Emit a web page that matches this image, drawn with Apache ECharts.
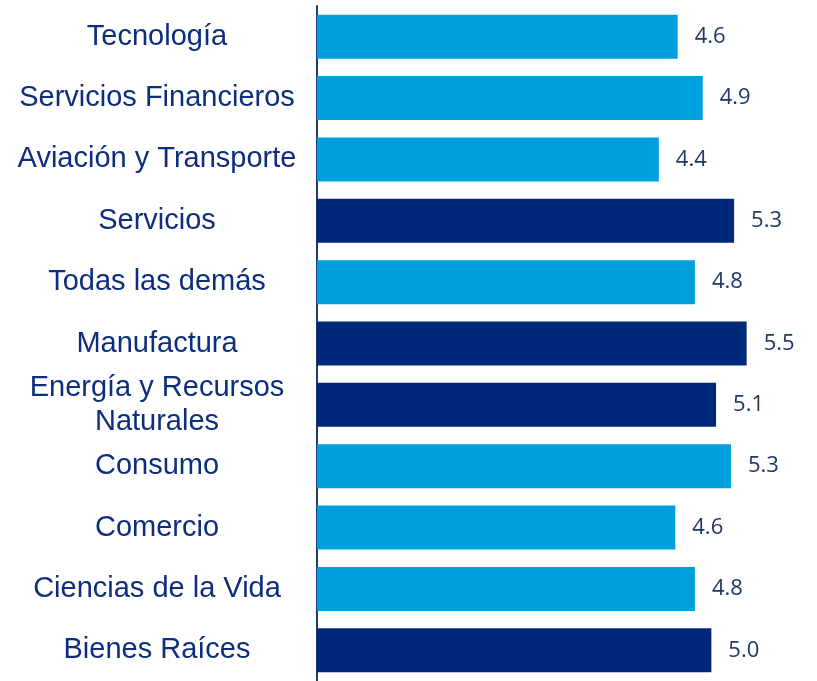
<!DOCTYPE html>
<html>
<head>
<meta charset="utf-8">
<script src="https://cdn.jsdelivr.net/npm/echarts@6/dist/echarts.min.js"></script>
<style>
html,body{margin:0;padding:0;background:#fff;}
#chart{width:817px;height:681px;}
</style>
</head>
<body>
<div id="chart"></div>
<script>
const categories = [
  "Tecnología",
  "Servicios Financieros",
  "Aviación y Transporte",
  "Servicios",
  "Todas las demás",
  "Manufactura",
  "Energía y Recursos\nNaturales",
  "Consumo",
  "Comercio",
  "Ciencias de la Vida",
  "Bienes Raíces"
];
const values = [4.60, 4.92, 4.36, 5.32, 4.82, 5.48, 5.09, 5.28, 4.57, 4.82, 5.03];
const highlighted = ["Servicios", "Manufactura", "Energía y Recursos\nNaturales", "Bienes Raíces"];

const LIGHT = "#00A0DF";
const DARK = "#002878";

const chart = echarts.init(document.getElementById("chart"), null, {renderer: "canvas"});
chart.setOption({
  animation: false,
  backgroundColor: "#ffffff",
  grid: {left: 317, top: 6, height: 678.7, width: 470.4, containLabel: false},
  xAxis: {
    type: "value", min: 0, max: 6,
    show: false
  },
  yAxis: {
    type: "category",
    data: categories,
    inverse: true,
    axisLine: {show: true, lineStyle: {color: "#1F3A7A", width: 2}},
    axisTick: {show: false},
    splitLine: {show: false},
    axisLabel: {
      align: "center",
      margin: 160,
      fontFamily: "Liberation Sans, Arial, sans-serif",
      fontSize: 29,
      lineHeight: 34,
      padding: [6, 0, 0, 0],
      color: "#0D2D7D"
    }
  },
  series: [{
    type: "bar",
    barWidth: 44,
    data: values.map((v, i) => ({
      value: v,
      itemStyle: {color: highlighted.includes(categories[i]) ? DARK : LIGHT}
    })),
    label: {
      show: true,
      position: "right",
      distance: 17,
      formatter: p => p.value.toFixed(1),
      fontFamily: "Open Sans, sans-serif",
      fontSize: 22,
      color: "#1F3864"
    }
  }]
});
</script>
</body>
</html>
